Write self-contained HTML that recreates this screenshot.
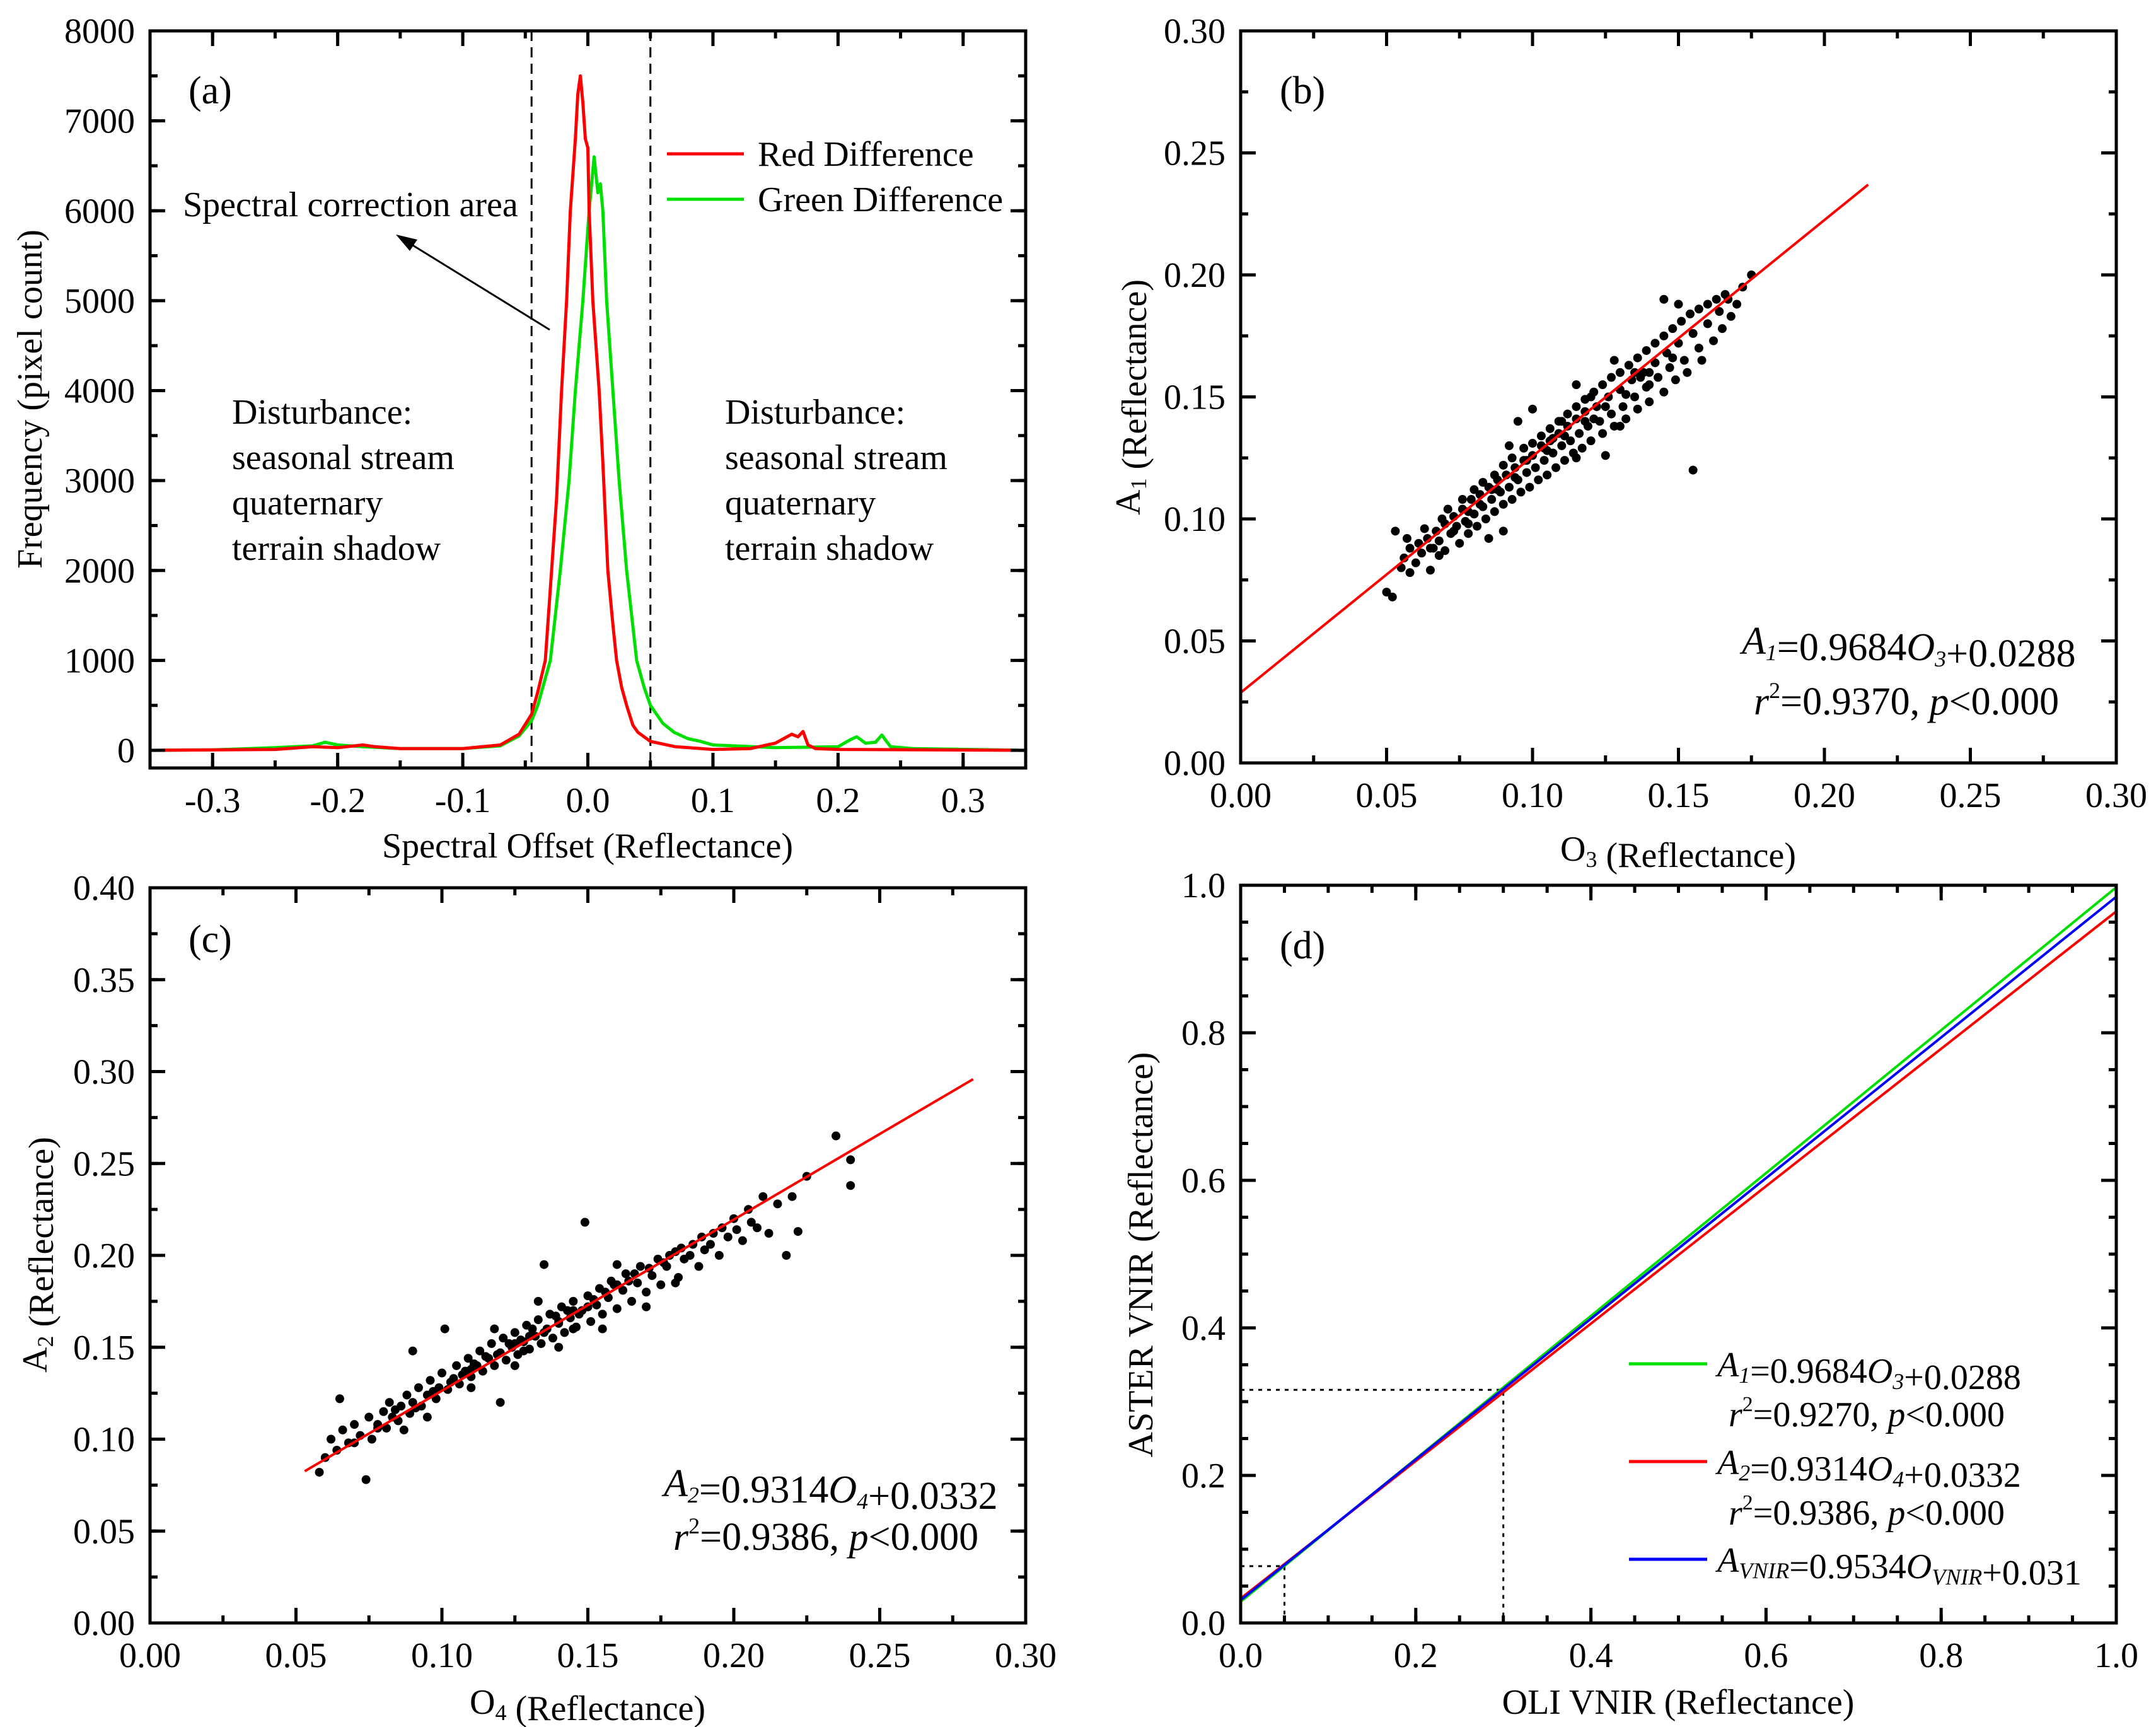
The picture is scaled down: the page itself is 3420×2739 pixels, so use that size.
<!DOCTYPE html>
<html><head><meta charset="utf-8"><style>
html,body{margin:0;padding:0;background:#fff}
svg{display:block}
text{font-family:"Liberation Serif",serif;fill:#000}
</style></head><body>
<svg id="fig" width="3420" height="2739" viewBox="0 0 3420 2739" xmlns="http://www.w3.org/2000/svg"></svg>
<script>
// ---- Panel (a) histogram data ----
const redX = [-0.35,-0.25,-0.22,-0.2,-0.18,-0.17,-0.15,-0.1,-0.07,-0.055,-0.045,-0.04,-0.034,-0.029,-0.025,-0.021,-0.017,-0.014,-0.01,-0.008,-0.006,-0.004,-0.002,0.0,0.001,0.004,0.006,0.009,0.012,0.016,0.02,0.023,0.027,0.031,0.036,0.04,0.05,0.07,0.1,0.13,0.15,0.163,0.168,0.172,0.176,0.182,0.2,0.35];
const redY = [0,10,40,30,60,40,20,20,60,180,400,650,1000,2000,2800,4000,5000,6000,6800,7300,7500,7200,6800,6700,6000,5000,4600,4000,3200,2000,1400,1000,700,500,280,200,100,40,10,20,80,180,150,210,60,20,10,0];
const greenX = [-0.35,-0.3,-0.25,-0.22,-0.21,-0.2,-0.18,-0.15,-0.1,-0.07,-0.055,-0.045,-0.04,-0.035,-0.03,-0.022,-0.015,-0.01,-0.004,0.001,0.003,0.005,0.008,0.01,0.012,0.015,0.02,0.025,0.031,0.035,0.039,0.045,0.05,0.06,0.069,0.08,0.09,0.1,0.15,0.2,0.21,0.215,0.222,0.23,0.235,0.242,0.26,0.35];
const greenY = [0,5,30,50,90,60,40,20,20,50,160,330,500,750,1000,2000,3000,4000,5000,6000,6300,6600,6200,6300,6000,5000,4000,3000,2000,1500,1000,700,500,300,200,130,100,60,30,40,120,150,80,90,170,40,20,0];
const histXTicks = [-0.3,-0.2,-0.1,0.0,0.1,0.2,0.3];
const histXTickLabels = ["-0.3","-0.2","-0.1","0.0","0.1","0.2","0.3"];
const histYTicks = [0,1000,2000,3000,4000,5000,6000,7000,8000];
const histYTickLabels = ["0","1000","2000","3000","4000","5000","6000","7000","8000"];
const correctionBounds = [-0.045, 0.05];

// ---- Panel (b) scatter data ----
const bX = [0.050,0.052,0.053,0.055,0.056,0.058,0.058,0.060,0.061,0.062,0.064,0.065,0.066,0.067,0.068,0.070,0.070,0.072,0.073,0.074,0.075,0.076,0.077,0.078,0.079,0.080,0.081,0.082,0.083,0.084,0.085,0.086,0.087,0.088,0.089,0.090,0.091,0.092,0.093,0.094,0.095,0.096,0.097,0.098,0.099,0.100,0.101,0.102,0.103,0.104,0.105,0.106,0.107,0.108,0.109,0.110,0.111,0.112,0.113,0.114,0.115,0.116,0.117,0.118,0.119,0.120,0.122,0.123,0.124,0.126,0.127,0.128,0.130,0.131,0.132,0.134,0.135,0.136,0.138,0.139,0.140,0.142,0.143,0.145,0.146,0.147,0.149,0.150,0.152,0.153,0.155,0.155,0.157,0.158,0.160,0.162,0.164,0.165,0.167,0.168,0.170,0.172,0.175,0.145,0.150,0.100,0.095,0.090,0.085,0.120,0.125,0.110,0.105,0.115,0.130,0.135,0.140,0.088,0.078,0.068,
0.057,0.063,0.069,0.071,0.076,0.080,0.083,0.087,0.090,0.093,0.097,0.100,0.103,0.106,0.109,0.112,0.115,0.118,0.121,0.124,0.127,0.130,0.133,0.136,0.139,0.142,0.145,0.148,0.151,0.154,0.157,0.160,0.163,0.166,0.115,0.128,0.092,0.078,0.086,0.098,0.104,0.111,0.118,0.125,0.132,0.140,0.148,0.137,0.121,0.107,0.094,0.082,0.073,0.065];
const bY = [0.070,0.068,0.095,0.080,0.084,0.078,0.088,0.082,0.090,0.086,0.092,0.079,0.088,0.095,0.091,0.098,0.087,0.094,0.101,0.097,0.090,0.104,0.099,0.094,0.108,0.102,0.097,0.110,0.105,0.100,0.113,0.108,0.103,0.116,0.111,0.106,0.118,0.113,0.108,0.121,0.116,0.111,0.124,0.119,0.113,0.126,0.121,0.116,0.130,0.124,0.118,0.132,0.127,0.121,0.135,0.130,0.124,0.138,0.132,0.127,0.141,0.135,0.129,0.144,0.138,0.132,0.146,0.140,0.135,0.150,0.143,0.138,0.153,0.146,0.141,0.157,0.150,0.145,0.160,0.154,0.148,0.164,0.158,0.152,0.168,0.162,0.157,0.172,0.165,0.160,0.120,0.176,0.170,0.165,0.180,0.173,0.185,0.178,0.190,0.183,0.188,0.195,0.200,0.190,0.188,0.145,0.140,0.095,0.092,0.150,0.126,0.140,0.128,0.125,0.138,0.160,0.155,0.112,0.098,0.085,
0.092,0.096,0.100,0.104,0.108,0.112,0.115,0.118,0.122,0.125,0.129,0.131,0.134,0.137,0.140,0.143,0.146,0.149,0.152,0.155,0.158,0.160,0.163,0.166,0.169,0.172,0.175,0.178,0.181,0.184,0.186,0.188,0.190,0.192,0.155,0.165,0.130,0.103,0.112,0.124,0.129,0.134,0.140,0.146,0.151,0.160,0.166,0.158,0.141,0.133,0.117,0.106,0.095,0.088];
const bFit = [0.9684, 0.0288];
const bFitRange = [0.0, 0.215];
const bTicks = [0.00,0.05,0.10,0.15,0.20,0.25,0.30];
const bTickLabels = ["0.00","0.05","0.10","0.15","0.20","0.25","0.30"];

// ---- Panel (c) scatter data ----
const cX = [0.058,0.060,0.062,0.064,0.065,0.066,0.068,0.070,0.072,0.074,0.075,0.076,0.078,0.080,0.081,0.082,0.083,0.085,0.086,0.088,0.089,0.090,0.092,0.093,0.095,0.096,0.098,0.099,0.100,0.101,0.102,0.104,0.105,0.106,0.108,0.109,0.110,0.112,0.113,0.114,0.116,0.117,0.118,0.120,0.121,0.122,0.124,0.125,0.126,0.128,0.129,0.130,0.132,0.133,0.134,0.136,0.137,0.138,0.140,0.141,0.142,0.144,0.145,0.146,0.148,0.149,0.150,0.151,0.153,0.154,0.155,0.157,0.158,0.160,0.162,0.163,0.165,0.167,0.168,0.170,0.172,0.174,0.175,0.177,0.180,0.181,0.183,0.186,0.188,0.190,0.193,0.195,0.198,0.200,0.203,0.205,0.208,0.210,0.212,0.215,0.218,0.220,0.222,0.225,0.235,0.240,0.240,0.180,0.120,0.135,0.090,0.110,0.130,0.150,0.160,0.140,0.125,0.145,
0.070,0.078,0.084,0.091,0.097,0.103,0.107,0.111,0.115,0.119,0.123,0.127,0.131,0.135,0.139,0.143,0.147,0.152,0.156,0.159,0.164,0.166,0.171,0.176,0.178,0.182,0.185,0.189,0.192,0.196,0.201,0.206,0.110,0.125,0.140,0.155,0.170,0.118,0.133,0.160,0.095,0.087,0.150,0.145,0.128];
const cY = [0.082,0.090,0.100,0.094,0.122,0.105,0.098,0.108,0.102,0.078,0.112,0.100,0.108,0.115,0.106,0.120,0.112,0.110,0.118,0.124,0.114,0.120,0.128,0.118,0.124,0.132,0.122,0.128,0.136,0.160,0.127,0.133,0.140,0.130,0.137,0.144,0.134,0.140,0.148,0.137,0.144,0.152,0.140,0.147,0.155,0.143,0.150,0.158,0.146,0.153,0.162,0.149,0.156,0.165,0.152,0.160,0.168,0.155,0.163,0.172,0.158,0.166,0.175,0.161,0.170,0.218,0.178,0.164,0.173,0.182,0.168,0.177,0.186,0.171,0.181,0.190,0.175,0.185,0.194,0.180,0.189,0.198,0.184,0.194,0.202,0.188,0.198,0.206,0.194,0.203,0.212,0.200,0.210,0.220,0.208,0.225,0.215,0.232,0.212,0.228,0.200,0.232,0.213,0.243,0.265,0.252,0.238,0.185,0.120,0.195,0.148,0.138,0.156,0.172,0.184,0.164,0.152,0.170,
0.098,0.106,0.116,0.117,0.126,0.131,0.135,0.141,0.145,0.146,0.152,0.154,0.160,0.158,0.167,0.170,0.168,0.176,0.180,0.184,0.186,0.190,0.193,0.196,0.200,0.204,0.200,0.210,0.206,0.215,0.214,0.218,0.128,0.140,0.150,0.160,0.172,0.160,0.175,0.195,0.112,0.105,0.172,0.160,0.148];
const cFit = [0.9314, 0.0332];
const cFitRange = [0.053, 0.282];
const cXTicks = [0.00,0.05,0.10,0.15,0.20,0.25,0.30];
const cXTickLabels = ["0.00","0.05","0.10","0.15","0.20","0.25","0.30"];
const cYTicks = [0.00,0.05,0.10,0.15,0.20,0.25,0.30,0.35,0.40];
const cYTickLabels = ["0.00","0.05","0.10","0.15","0.20","0.25","0.30","0.35","0.40"];

// ---- Panel (d) fit lines ----
const dSlopes = [0.9684, 0.9314, 0.9534];
const dIntercepts = [0.0288, 0.0332, 0.031];
const dColors = ["#00e000", "#ff0000", "#0000ff"];
const dNames = ["fit-line-a1", "fit-line-a2", "fit-line-vnir"];
const dGuideX = [0.3, 0.05];
const dGuideY = [0.316, 0.077];
const dTicks = [0.0,0.2,0.4,0.6,0.8,1.0];
const dTickLabels = ["0.0","0.2","0.4","0.6","0.8","1.0"];

const NS = "http://www.w3.org/2000/svg";
const svg = document.getElementById('fig');
function mk(tag, attrs, parent){
  const e = document.createElementNS(NS, tag);
  for (const k in attrs) e.setAttribute(k, attrs[k]);
  (parent||svg).appendChild(e);
  return e;
}
function panel(name, L, T, R, B, x0, x1, y0, y1){
  const g = mk('g', {});
  
  
  return {g, L, T, R, B, sx: v => L + (v - x0) / (x1 - x0) * (R - L), sy: v => B - (v - y0) / (y1 - y0) * (B - T), x0, x1, y0, y1};
}
function frame(p){
  const r = mk('rect', {x:p.L, y:p.T, width:p.R-p.L, height:p.B-p.T, fill:'none', stroke:'#000', 'stroke-width':5}, p.g);
  
  
}
function ticksX(p, vals, labels, minorStep){
  const g = mk('g', {}, p.g);
  
  
  for (let v = p.x0; v <= p.x1 + 1e-9; v += minorStep){
    const x = p.sx(v);
    mk('line', {x1:x, y1:p.B, x2:x, y2:p.B-12, stroke:'#000','stroke-width':5}, g);
    mk('line', {x1:x, y1:p.T, x2:x, y2:p.T+12, stroke:'#000','stroke-width':5}, g);
  }
  vals.forEach((v, i) => {
    const x = p.sx(v);
    mk('line', {x1:x, y1:p.B, x2:x, y2:p.B-24, stroke:'#000','stroke-width':5}, g);
    mk('line', {x1:x, y1:p.T, x2:x, y2:p.T+24, stroke:'#000','stroke-width':5}, g);
    const t = mk('text', {x:x, y:p.B+70, 'font-size':56, 'text-anchor':'middle'}, g);
    
    
    t.textContent = labels[i];
  });
}
function ticksY(p, vals, labels, minorStep){
  const g = mk('g', {}, p.g);
  
  
  for (let v = vals[0]; v <= p.y1 + 1e-9; v += minorStep){
    const y = p.sy(v);
    mk('line', {x1:p.L, y1:y, x2:p.L+12, y2:y, stroke:'#000','stroke-width':5}, g);
    mk('line', {x1:p.R, y1:y, x2:p.R-12, y2:y, stroke:'#000','stroke-width':5}, g);
  }
  vals.forEach((v, i) => {
    const y = p.sy(v);
    mk('line', {x1:p.L, y1:y, x2:p.L+24, y2:y, stroke:'#000','stroke-width':5}, g);
    mk('line', {x1:p.R, y1:y, x2:p.R-24, y2:y, stroke:'#000','stroke-width':5}, g);
    const t = mk('text', {x:p.L-24, y:y+19, 'font-size':56, 'text-anchor':'end'}, g);
    
    
    t.textContent = labels[i];
  });
}
function label(parent, name, x, y, html, size, anchor, rot){
  const t = mk('text', {x:x, y:y, 'font-size':size||56, 'text-anchor':anchor||'start'}, parent);
  if (rot) t.setAttribute('transform', 'rotate(-90 '+x+' '+y+')');
  
  
  t.innerHTML = html;
  return t;
}
const SUB = s => '<tspan font-size="36" dy="10">'+s+'</tspan><tspan dy="-10"></tspan>';
const ISUB = s => '<tspan font-size="36" dy="10" font-style="italic">'+s+'</tspan><tspan dy="-10"></tspan>';

// ===== Panel (a) =====
const pa = panel('panel-a', 238, 49, 1627, 1218, -0.35, 0.35, -196, 8000);
correctionBounds.forEach(v => {
  const l = mk('line', {x1:pa.sx(v), y1:pa.T, x2:pa.sx(v), y2:pa.B, stroke:'#000','stroke-width':3,'stroke-dasharray':'16,10'}, pa.g);
  
  
});
function stepPath(xs, ys, p){
  let d = '';
  xs.forEach((x, i) => { d += (i ? 'L' : 'M') + p.sx(x).toFixed(1) + ',' + p.sy(ys[i]).toFixed(1); });
  return d;
}
const gPath = mk('path', {d:stepPath(greenX, greenY, pa), fill:'none', stroke:'#00e000','stroke-width':5,'stroke-linejoin':'round'}, pa.g);


const rPath = mk('path', {d:stepPath(redX, redY, pa), fill:'none', stroke:'#ff0000','stroke-width':5,'stroke-linejoin':'round'}, pa.g);


frame(pa);
ticksX(pa, histXTicks, histXTickLabels, 0.05);
ticksY(pa, histYTicks, histYTickLabels, 500);
label(pa.g, 'panel-label-a', 299, 164, '(a)', 62);
label(pa.g, 'x-axis-title', 932, 1360, 'Spectral Offset  (Reflectance)', 56, 'middle');
label(pa.g, 'y-axis-title', 66, 633, 'Frequency  (pixel count)', 56, 'middle', true);
const la = mk('g', {}, pa.g);


mk('line', {x1:1058, y1:244, x2:1180, y2:244, stroke:'#ff0000','stroke-width':5}, la);
mk('line', {x1:1058, y1:316, x2:1180, y2:316, stroke:'#00e000','stroke-width':5}, la);
label(la, 'legend-red-difference', 1202, 263, 'Red Difference', 56);
label(la, 'legend-green-difference', 1202, 335, 'Green Difference', 56);
label(pa.g, 'spectral-correction-label', 290, 343, 'Spectral correction area', 56);
const arr = mk('line', {x1:872, y1:523, x2:645, y2:383, stroke:'#000','stroke-width':3}, pa.g);


mk('polygon', {points:'628,372 662,380 650,398', fill:'#000'}, pa.g);
['Disturbance:','seasonal stream','quaternary','terrain shadow'].forEach((s, i) => {
  label(pa.g, 'disturbance-left-text', 368, 672 + i*72, s, 56);
  label(pa.g, 'disturbance-right-text', 1150, 672 + i*72, s, 56);
});

// ===== Panel (b) =====
const pb = panel('panel-b', 1968, 49, 3357, 1210, 0, 0.30, 0, 0.30);
bX.forEach((x, i) => {
  const c = mk('circle', {cx:pb.sx(x), cy:pb.sy(bY[i]), r:7, fill:'#000'}, pb.g);
  
  
});
const bl = mk('line', {x1:pb.sx(bFitRange[0]), y1:pb.sy(bFit[0]*bFitRange[0]+bFit[1]), x2:pb.sx(bFitRange[1]), y2:pb.sy(bFit[0]*bFitRange[1]+bFit[1]), stroke:'#ff0000','stroke-width':4}, pb.g);


frame(pb);
ticksX(pb, bTicks, bTickLabels, 0.025);
ticksY(pb, bTicks, bTickLabels, 0.025);
label(pb.g, 'panel-label-b', 2030, 164, '(b)', 62);
label(pb.g, 'x-axis-title', 2662, 1365, 'O'+SUB('3')+'  (Reflectance)', 56, 'middle');
label(pb.g, 'y-axis-title', 1808, 630, 'A'+SUB('1')+'  (Reflectance)', 56, 'middle', true);
label(pb.g, 'regression-equation', 2763, 1037, '<tspan font-style="italic">A</tspan>'+ISUB('1')+'=0.9684<tspan font-style="italic">O</tspan>'+ISUB('3')+'+0.0288', 62);
label(pb.g, 'regression-stats', 2782, 1133, '<tspan font-style="italic">r</tspan><tspan font-size="36" dy="-26">2</tspan><tspan dy="26">=0.9370,  </tspan><tspan font-style="italic">p</tspan>&lt;0.000', 62);

// ===== Panel (c) =====
const pc = panel('panel-c', 238, 1408, 1627, 2574, 0, 0.30, 0, 0.40);
cX.forEach((x, i) => {
  const c = mk('circle', {cx:pc.sx(x), cy:pc.sy(cY[i]), r:7, fill:'#000'}, pc.g);
  
  
});
const cl = mk('line', {x1:pc.sx(cFitRange[0]), y1:pc.sy(cFit[0]*cFitRange[0]+cFit[1]), x2:pc.sx(cFitRange[1]), y2:pc.sy(cFit[0]*cFitRange[1]+cFit[1]), stroke:'#ff0000','stroke-width':4}, pc.g);


frame(pc);
ticksX(pc, cXTicks, cXTickLabels, 0.025);
ticksY(pc, cYTicks, cYTickLabels, 0.025);
label(pc.g, 'panel-label-c', 299, 1510, '(c)', 62);
label(pc.g, 'x-axis-title', 932, 2718, 'O'+SUB('4')+'  (Reflectance)', 56, 'middle');
label(pc.g, 'y-axis-title', 74, 1990, 'A'+SUB('2')+'  (Reflectance)', 56, 'middle', true);
label(pc.g, 'regression-equation', 1053, 2373, '<tspan font-style="italic">A</tspan>'+ISUB('2')+'=0.9314<tspan font-style="italic">O</tspan>'+ISUB('4')+'+0.0332', 62);
label(pc.g, 'regression-stats', 1068, 2458, '<tspan font-style="italic">r</tspan><tspan font-size="36" dy="-26">2</tspan><tspan dy="26">=0.9386,  </tspan><tspan font-style="italic">p</tspan>&lt;0.000', 62);

// ===== Panel (d) =====
const pd = panel('panel-d', 1968, 1404, 3357, 2574, 0, 1, 0, 1);
dGuideX.forEach((gx, i) => {
  const gy = dGuideY[i];
  const h = mk('polyline', {points: pd.sx(0)+','+pd.sy(gy)+' '+pd.sx(gx)+','+pd.sy(gy)+' '+pd.sx(gx)+','+pd.sy(0), fill:'none', stroke:'#000','stroke-width':3,'stroke-dasharray':'6,8'}, pd.g);
  
  
});
dSlopes.forEach((m, i) => {
  const l = mk('line', {x1:pd.sx(0), y1:pd.sy(dIntercepts[i]), x2:pd.sx(1), y2:pd.sy(m + dIntercepts[i]), stroke:dColors[i],'stroke-width':4}, pd.g);
  
  
});
frame(pd);
ticksX(pd, dTicks, dTickLabels, 0.05);
ticksY(pd, dTicks, dTickLabels, 0.05);
label(pd.g, 'panel-label-d', 2030, 1520, '(d)', 62);
label(pd.g, 'x-axis-title', 2662, 2718, 'OLI VNIR  (Reflectance)', 56, 'middle');
label(pd.g, 'y-axis-title', 1828, 1990, 'ASTER  VNIR  (Reflectance)', 56, 'middle', true);
const ld = mk('g', {}, pd.g);


mk('line', {x1:2584, y1:2163, x2:2708, y2:2163, stroke:'#00e000','stroke-width':5}, ld);
mk('line', {x1:2584, y1:2318, x2:2708, y2:2318, stroke:'#ff0000','stroke-width':5}, ld);
mk('line', {x1:2584, y1:2473, x2:2708, y2:2473, stroke:'#0000ff','stroke-width':5}, ld);
label(ld, 'legend-a1', 2724, 2183, '<tspan font-style="italic">A</tspan>'+ISUB('1')+'=0.9684<tspan font-style="italic">O</tspan>'+ISUB('3')+'+0.0288', 56);
label(ld, 'legend-a1-stats', 2742, 2262, '<tspan font-style="italic">r</tspan><tspan font-size="34" dy="-24">2</tspan><tspan dy="24">=0.9270,  </tspan><tspan font-style="italic">p</tspan>&lt;0.000', 56);
label(ld, 'legend-a2', 2724, 2338, '<tspan font-style="italic">A</tspan>'+ISUB('2')+'=0.9314<tspan font-style="italic">O</tspan>'+ISUB('4')+'+0.0332', 56);
label(ld, 'legend-a2-stats', 2742, 2418, '<tspan font-style="italic">r</tspan><tspan font-size="34" dy="-24">2</tspan><tspan dy="24">=0.9386,  </tspan><tspan font-style="italic">p</tspan>&lt;0.000', 56);
label(ld, 'legend-vnir', 2724, 2493, '<tspan font-style="italic">A</tspan>'+ISUB('VNIR')+'=0.9534<tspan font-style="italic">O</tspan>'+ISUB('VNIR')+'+0.031', 56);
</script>
</body></html>
